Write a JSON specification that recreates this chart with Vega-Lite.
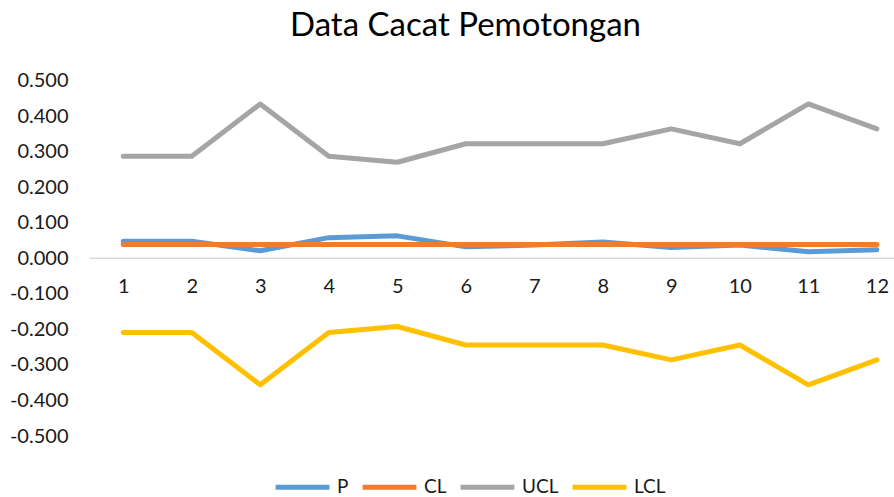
{
  "$schema": "https://vega.github.io/schema/vega-lite/v6.json",
  "width": 805,
  "height": 355.5,
  "autosize": {"type": "none"},
  "padding": {"left": 89, "top": 80.5, "right": 0, "bottom": 61},
  "background": "white",
  "config": {
    "font": "Lato",
    "view": {"stroke": null}
  },
  "title": {
    "text": "Data Cacat Pemotongan",
    "font": "Lato",
    "fontSize": 33,
    "fontWeight": "normal",
    "color": "#000000",
    "anchor": "middle",
    "frame": "group",
    "dx": -26,
    "offset": 28
  },
  "data": {
    "values": [
      {"series": "P", "sample": 1, "value": 0.048},
      {"series": "P", "sample": 2, "value": 0.048},
      {"series": "P", "sample": 3, "value": 0.021},
      {"series": "P", "sample": 4, "value": 0.058},
      {"series": "P", "sample": 5, "value": 0.063},
      {"series": "P", "sample": 6, "value": 0.032},
      {"series": "P", "sample": 7, "value": 0.037},
      {"series": "P", "sample": 8, "value": 0.046},
      {"series": "P", "sample": 9, "value": 0.030},
      {"series": "P", "sample": 10, "value": 0.037},
      {"series": "P", "sample": 11, "value": 0.018},
      {"series": "P", "sample": 12, "value": 0.024},
      {"series": "CL", "sample": 1, "value": 0.039},
      {"series": "CL", "sample": 2, "value": 0.039},
      {"series": "CL", "sample": 3, "value": 0.039},
      {"series": "CL", "sample": 4, "value": 0.039},
      {"series": "CL", "sample": 5, "value": 0.039},
      {"series": "CL", "sample": 6, "value": 0.039},
      {"series": "CL", "sample": 7, "value": 0.039},
      {"series": "CL", "sample": 8, "value": 0.039},
      {"series": "CL", "sample": 9, "value": 0.039},
      {"series": "CL", "sample": 10, "value": 0.039},
      {"series": "CL", "sample": 11, "value": 0.039},
      {"series": "CL", "sample": 12, "value": 0.039},
      {"series": "UCL", "sample": 1, "value": 0.287},
      {"series": "UCL", "sample": 2, "value": 0.287},
      {"series": "UCL", "sample": 3, "value": 0.434},
      {"series": "UCL", "sample": 4, "value": 0.287},
      {"series": "UCL", "sample": 5, "value": 0.270},
      {"series": "UCL", "sample": 6, "value": 0.322},
      {"series": "UCL", "sample": 7, "value": 0.322},
      {"series": "UCL", "sample": 8, "value": 0.322},
      {"series": "UCL", "sample": 9, "value": 0.364},
      {"series": "UCL", "sample": 10, "value": 0.322},
      {"series": "UCL", "sample": 11, "value": 0.434},
      {"series": "UCL", "sample": 12, "value": 0.364},
      {"series": "LCL", "sample": 1, "value": -0.209},
      {"series": "LCL", "sample": 2, "value": -0.209},
      {"series": "LCL", "sample": 3, "value": -0.356},
      {"series": "LCL", "sample": 4, "value": -0.209},
      {"series": "LCL", "sample": 5, "value": -0.192},
      {"series": "LCL", "sample": 6, "value": -0.244},
      {"series": "LCL", "sample": 7, "value": -0.244},
      {"series": "LCL", "sample": 8, "value": -0.244},
      {"series": "LCL", "sample": 9, "value": -0.286},
      {"series": "LCL", "sample": 10, "value": -0.244},
      {"series": "LCL", "sample": 11, "value": -0.356},
      {"series": "LCL", "sample": 12, "value": -0.286}
    ]
  },
  "mark": {"type": "line", "strokeWidth": 5, "strokeCap": "round", "strokeJoin": "round"},
  "encoding": {
    "x": {
      "field": "sample",
      "type": "quantitative",
      "scale": {"domain": [0.5, 12.25], "nice": false, "zero": false},
      "axis": {
        "title": null,
        "values": [1, 2, 3, 4, 5, 6, 7, 8, 9, 10, 11, 12],
        "format": "d",
        "grid": false,
        "ticks": false,
        "domain": true,
        "domainColor": "#d9d9d9",
        "domainWidth": 1.5,
        "offset": -178.3,
        "labelPadding": 19,
        "labelFontSize": 20,
        "labelColor": "#1a1a1a",
        "labelFlush": false,
        "labelOverlap": false
      }
    },
    "y": {
      "field": "value",
      "type": "quantitative",
      "scale": {"domain": [-0.5, 0.5], "nice": false},
      "axis": {
        "title": null,
        "values": [-0.5, -0.4, -0.3, -0.2, -0.1, 0, 0.1, 0.2, 0.3, 0.4, 0.5],
        "format": ".3f",
        "labelExpr": "replace(datum.label, '\u2212', '-')",
        "grid": false,
        "ticks": false,
        "domain": false,
        "labelPadding": 21,
        "labelFontSize": 20,
        "labelColor": "#1a1a1a",
        "labelFlush": false,
        "labelOverlap": false
      }
    },
    "color": {
      "field": "series",
      "type": "nominal",
      "scale": {"domain": ["P", "CL", "UCL", "LCL"], "range": ["#5b9bd5", "#ed7d31", "#a5a5a5", "#ffc000"]},
      "legend": {
        "title": null,
        "orient": "none",
        "direction": "horizontal",
        "legendX": 184,
        "legendY": 377,
        "padding": 0,
        "symbolType": "stroke",
        "symbolSize": 2900,
        "symbolStrokeWidth": 5,
        "labelFontSize": 19,
        "labelColor": "#1a1a1a",
        "labelOffset": 5,
        "columnPadding": 3
      }
    }
  }
}
